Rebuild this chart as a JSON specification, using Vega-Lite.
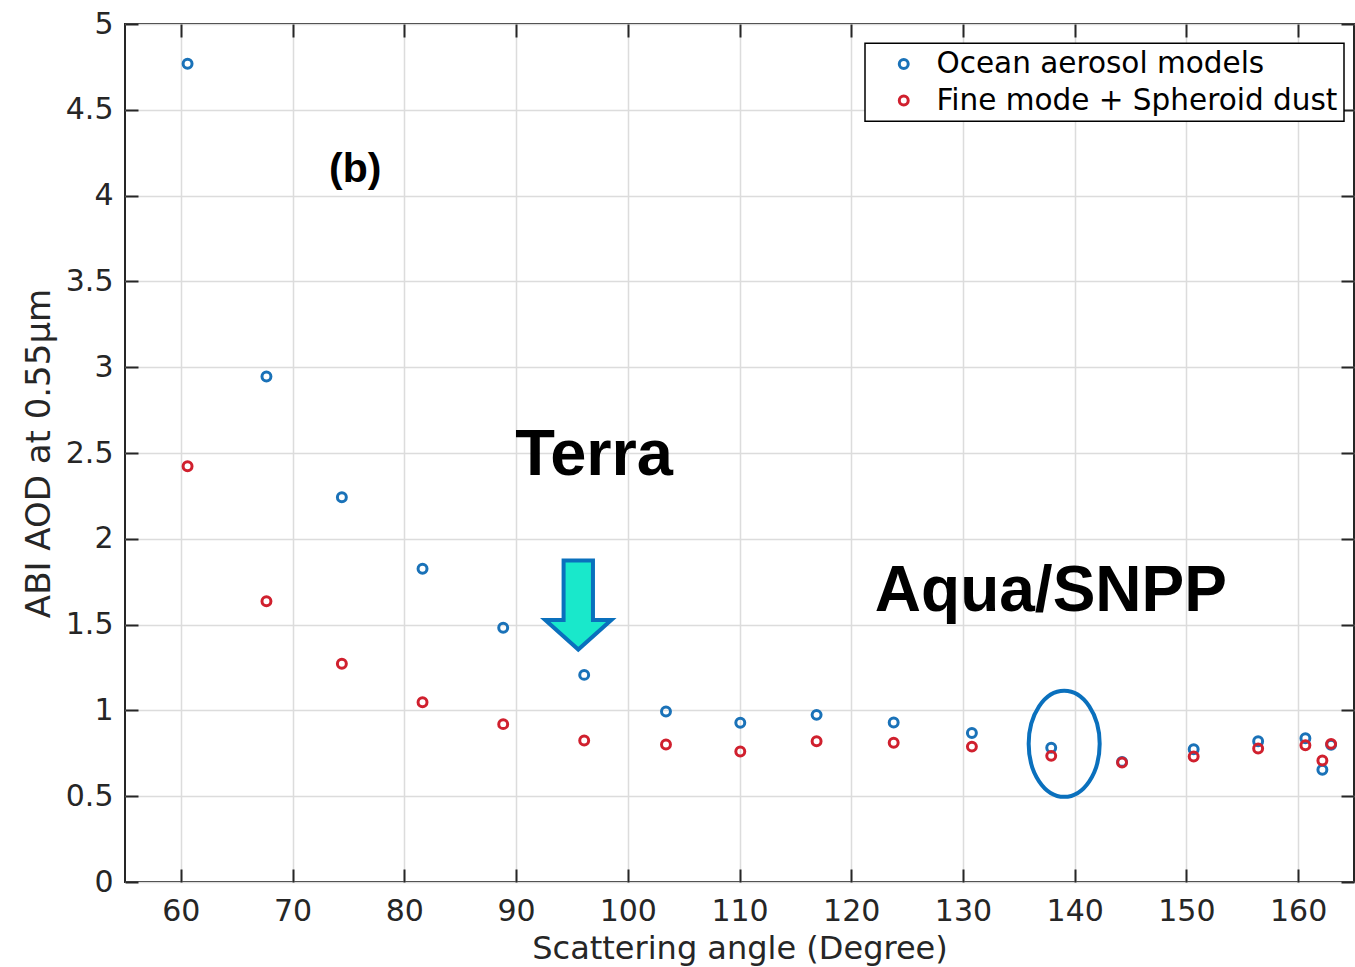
{
  "$schema": "https://vega.github.io/schema/vega-lite/v6.json",
  "width": 1229,
  "height": 858,
  "autosize": {"type": "none"},
  "padding": {"left": 125, "top": 24, "right": 1, "bottom": 85},
  "background": "white",
  "config": {
    "view": {"stroke": "#262626", "strokeWidth": 2},
    "font": "DejaVu Sans",
    "axis": {
      "labelFont": "DejaVu Sans",
      "titleFont": "DejaVu Sans",
      "labelColor": "#262626",
      "titleColor": "#262626",
      "titleFontWeight": "normal",
      "tickColor": "#262626",
      "tickWidth": 2,
      "tickSize": -13,
      "gridColor": "#dcdcdc",
      "gridWidth": 1.5,
      "domain": false
    },
    "legend": {
      "strokeWidth": 1.5
    }
  },
  "datasets": {
    "points": [
      {"angle": 60.6, "aod": 4.768, "series": "Ocean aerosol models"},
      {"angle": 67.66, "aod": 2.946, "series": "Ocean aerosol models"},
      {"angle": 74.41, "aod": 2.242, "series": "Ocean aerosol models"},
      {"angle": 81.63, "aod": 1.825, "series": "Ocean aerosol models"},
      {"angle": 88.85, "aod": 1.482, "series": "Ocean aerosol models"},
      {"angle": 96.1, "aod": 1.207, "series": "Ocean aerosol models"},
      {"angle": 103.42, "aod": 0.994, "series": "Ocean aerosol models"},
      {"angle": 110.07, "aod": 0.928, "series": "Ocean aerosol models"},
      {"angle": 116.9, "aod": 0.974, "series": "Ocean aerosol models"},
      {"angle": 123.8, "aod": 0.929, "series": "Ocean aerosol models"},
      {"angle": 130.8, "aod": 0.868, "series": "Ocean aerosol models"},
      {"angle": 137.9, "aod": 0.782, "series": "Ocean aerosol models"},
      {"angle": 144.24, "aod": 0.7, "series": "Ocean aerosol models"},
      {"angle": 150.65, "aod": 0.774, "series": "Ocean aerosol models"},
      {"angle": 156.42, "aod": 0.82, "series": "Ocean aerosol models"},
      {"angle": 160.65, "aod": 0.838, "series": "Ocean aerosol models"},
      {"angle": 162.17, "aod": 0.654, "series": "Ocean aerosol models"},
      {"angle": 162.95, "aod": 0.8, "series": "Ocean aerosol models"},
      {"angle": 60.6, "aod": 2.423, "series": "Fine mode + Spheroid dust"},
      {"angle": 67.66, "aod": 1.636, "series": "Fine mode + Spheroid dust"},
      {"angle": 74.41, "aod": 1.272, "series": "Fine mode + Spheroid dust"},
      {"angle": 81.63, "aod": 1.048, "series": "Fine mode + Spheroid dust"},
      {"angle": 88.85, "aod": 0.92, "series": "Fine mode + Spheroid dust"},
      {"angle": 96.1, "aod": 0.825, "series": "Fine mode + Spheroid dust"},
      {"angle": 103.42, "aod": 0.801, "series": "Fine mode + Spheroid dust"},
      {"angle": 110.07, "aod": 0.76, "series": "Fine mode + Spheroid dust"},
      {"angle": 116.9, "aod": 0.82, "series": "Fine mode + Spheroid dust"},
      {"angle": 123.8, "aod": 0.811, "series": "Fine mode + Spheroid dust"},
      {"angle": 130.8, "aod": 0.789, "series": "Fine mode + Spheroid dust"},
      {"angle": 137.9, "aod": 0.735, "series": "Fine mode + Spheroid dust"},
      {"angle": 144.24, "aod": 0.696, "series": "Fine mode + Spheroid dust"},
      {"angle": 150.65, "aod": 0.731, "series": "Fine mode + Spheroid dust"},
      {"angle": 156.42, "aod": 0.778, "series": "Fine mode + Spheroid dust"},
      {"angle": 160.65, "aod": 0.797, "series": "Fine mode + Spheroid dust"},
      {"angle": 162.17, "aod": 0.708, "series": "Fine mode + Spheroid dust"},
      {"angle": 162.95, "aod": 0.805, "series": "Fine mode + Spheroid dust"}
    ]
  },
  "layer": [
    {
      "data": {"name": "points"},
      "mark": {"type": "point", "filled": false, "size": 80, "strokeWidth": 3, "opacity": 1},
      "encoding": {
        "x": {
          "field": "angle",
          "type": "quantitative",
          "scale": {"domain": [55, 165], "nice": false, "zero": false},
          "axis": {
            "orient": "bottom",
            "values": [60, 70, 80, 90, 100, 110, 120, 130, 140, 150, 160],
            "grid": true,
            "labelFontSize": 30,
            "labelPadding": 27.5,
            "labelFlush": false,
            "title": "Scattering angle (Degree)",
            "titleFontSize": 32,
            "titlePadding": 7
          }
        },
        "y": {
          "field": "aod",
          "type": "quantitative",
          "scale": {"domain": [0, 5], "nice": false, "zero": true},
          "axis": {
            "orient": "left",
            "values": [0, 0.5, 1, 1.5, 2, 2.5, 3, 3.5, 4, 4.5, 5],
            "format": "~g",
            "grid": true,
            "labelFontSize": 30,
            "labelPadding": 25,
            "labelFlush": false,
            "title": "ABI AOD at 0.55μm",
            "titleFontSize": 34,
            "titlePadding": 9
          }
        },
        "color": {
          "field": "series",
          "type": "nominal",
          "scale": {
            "domain": ["Ocean aerosol models", "Fine mode + Spheroid dust"],
            "range": ["#1a72b8", "#d0202e"]
          },
          "legend": {
            "orient": "none",
            "legendX": 740,
            "legendY": 19.3,
            "title": null,
            "labelFont": "DejaVu Sans",
            "labelFontSize": 29.5,
            "labelColor": "#000000",
            "labelLimit": 0,
            "strokeColor": "#000000",
            "fillColor": "#ffffff",
            "padding": 6,
            "symbolOffset": 18,
            "labelOffset": 18,
            "rowPadding": 5.5,
            "symbolType": "circle",
            "symbolSize": 80,
            "symbolStrokeWidth": 3,
            "symbolFillColor": "transparent"
          }
        }
      }
    },
    {
      "data": {"values": [{}]},
      "mark": {"type": "point", "shape": "M-0.67,0 A0.67,1 0 1,1 0.67,0 A0.67,1 0 1,1 -0.67,0 Z", "size": 11236, "filled": false, "stroke": "#0a70bd", "strokeWidth": 4, "opacity": 1},
      "encoding": {
        "x": {
          "datum": 139.06,
          "type": "quantitative",
          "axis": {
            "orient": "top",
            "values": [60, 70, 80, 90, 100, 110, 120, 130, 140, 150, 160],
            "labels": false,
            "grid": false,
            "title": null
          }
        },
        "y": {
          "datum": 0.805,
          "type": "quantitative",
          "axis": {
            "orient": "right",
            "values": [0, 0.5, 1, 1.5, 2, 2.5, 3, 3.5, 4, 4.5, 5],
            "labels": false,
            "grid": false,
            "title": null
          }
        }
      }
    },
    {
      "data": {"values": [{}]},
      "mark": {"type": "point", "shape": "M-0.33,-1 L0.33,-1 L0.33,0.337 L0.742,0.337 L0,1 L-0.742,0.337 L-0.33,0.337 Z", "size": 7921, "filled": true, "fill": "#19e8cb", "stroke": "#0a70bd", "strokeWidth": 4, "opacity": 1, "fillOpacity": 1},
      "encoding": {
        "x": {"datum": 95.57, "type": "quantitative", "axis": null},
        "y": {"datum": 1.614, "type": "quantitative", "axis": null}
      }
    },
    {
      "data": {"values": [{}]},
      "mark": {"type": "text", "text": "(b)", "font": "Liberation Sans", "fontWeight": "bold", "fontSize": 41, "align": "center", "baseline": "alphabetic", "color": "#000000"},
      "encoding": {
        "x": {"datum": 75.6, "type": "quantitative", "axis": null},
        "y": {"datum": 4.08, "type": "quantitative", "axis": null}
      }
    },
    {
      "data": {"values": [{}]},
      "mark": {"type": "text", "text": "Terra", "font": "Liberation Sans", "fontWeight": "bold", "fontSize": 65, "align": "center", "baseline": "alphabetic", "color": "#000000"},
      "encoding": {
        "x": {"datum": 96.99, "type": "quantitative", "axis": null},
        "y": {"datum": 2.369, "type": "quantitative", "axis": null}
      }
    },
    {
      "data": {"values": [{}]},
      "mark": {"type": "text", "text": "Aqua/SNPP", "font": "Liberation Sans", "fontWeight": "bold", "fontSize": 64, "align": "center", "baseline": "alphabetic", "color": "#000000"},
      "encoding": {
        "x": {"datum": 137.87, "type": "quantitative", "axis": null},
        "y": {"datum": 1.582, "type": "quantitative", "axis": null}
      }
    }
  ],
  "resolve": {"axis": {"x": "independent", "y": "independent"}}
}
